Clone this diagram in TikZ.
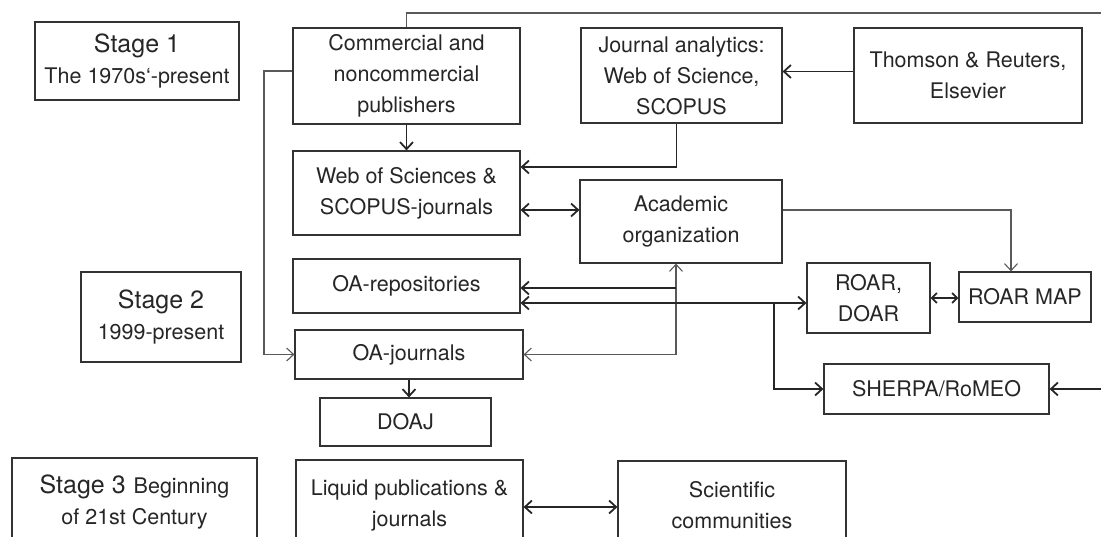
\documentclass[tikz,border=0pt]{standalone}
\usepackage{fontspec}
\setmainfont{TeX Gyre Heros}
\usetikzlibrary{arrows.meta}
\newcommand{\bodyfont}{\fontsize{21.5}{31}\selectfont}
\newcommand{\stagefont}{\fontsize{25}{31}\selectfont}
\tikzset{
  >={Straight Barb[length=7pt,width=13pt]},
  box/.style={draw=black!80, line width=1.2pt, align=center, font=\bodyfont, text=black!85, inner sep=1pt},
  link/.style={->, line width=1.8pt, draw=black!85},
  thinlink/.style={->, line width=1.1pt, draw=black!65},
  twoway/.style={<->, line width=1.8pt, draw=black!85},
}
\begin{document}
\begin{tikzpicture}[x=1pt,y=-1pt]
    \useasboundingbox (0,0) rectangle (1101,536);

    % stages
    \node[box, minimum width=204pt, minimum height=78pt] (stageone) at (137,61) {{\stagefont Stage 1}\\The 1970s‘-present};
    \node[box, minimum width=160pt, minimum height=90pt] (stagetwo) at (161,317) {{\stagefont Stage 2}\\1999-present};
    \node[box, minimum width=245pt, minimum height=88pt] (stagethree) at (134.5,502) {{\stagefont Stage 3}\hspace{8pt}Beginning\\of 21st Century};

    % first row
    \node[box, minimum width=227pt, minimum height=96pt] (comm) at (406.5,76) {Commercial and\\noncommercial\\publishers};
    \node[box, minimum width=201pt, minimum height=95pt] (jana) at (681.5,75.5) {Journal analytics:\\Web of Science,\\SCOPUS};
    \node[box, minimum width=228pt, minimum height=95pt] (thom) at (968,75.5) {Thomson \& Reuters,\\Elsevier};

    \node[box, minimum width=227pt, minimum height=84pt] (wos) at (406.5,193) {Web of Sciences \&\\SCOPUS-journals};
    \node[box, minimum width=202pt, minimum height=83pt] (acad) at (681,221.5) {Academic\\organization};

    % open access
    \node[box, minimum width=227pt, minimum height=54pt] (oarep) at (406.5,286) {OA-repositories};
    \node[box, minimum width=228pt, minimum height=49pt] (oajour) at (409,354.5) {OA-journals};
    \node[box, minimum width=171pt, minimum height=48pt] (doaj) at (405.5,422) {DOAJ};
    \node[box, minimum width=123pt, minimum height=70pt] (roar) at (868.5,298) {ROAR,\\DOAR};
    \node[box, minimum width=132pt, minimum height=50pt] (roarmap) at (1025,297) {ROAR MAP};
    \node[box, minimum width=225pt, minimum height=50pt] (sherpa) at (936.5,389) {SHERPA/RoMEO};

    % stage 3
    \node[box, minimum width=227pt, minimum height=90pt] (liquid) at (409.5,505) {Liquid publications \&\\journals};
    \node[box, minimum width=228pt, minimum height=88pt] (scient) at (732,505) {Scientific\\communities};

    \coordinate (topright) at (1112,13);
    \coordinate (leftbend) at (264,71);
    \coordinate (upjoin) at (676,288);
    \coordinate (split) at (774,303);

    \draw[link] ([yshift=4pt]thom.west) -- ([yshift=4pt]jana.east);
    \draw[link] (comm.south) -- (wos.north);
    \draw[link] ([xshift=-5pt]jana.south) |- ([yshift=26pt]wos.east);
    \draw[twoway] ([yshift=-17pt]wos.east) -- ([yshift=11.5pt]acad.west);
    \draw[thinlink] ([yshift=11.5pt]acad.east) -| ([xshift=-14pt]roarmap.north);
    \draw[thinlink, <->] (oajour.east) -| ([xshift=-5pt]acad.south);
    \draw[link] (upjoin) -- (oarep.east |- upjoin);
    \draw[twoway] (oarep.east |- split) -- (roar.west |- split);
    \draw[link] (split) |- (sherpa.west);
    \draw[twoway, >={Straight Barb[length=5pt,width=10pt]}] (roar.east) -- (roar.east -| roarmap.west);
    \draw[thinlink, -] (comm.north) |- (topright) -- (topright |- sherpa.east);
    \draw[link] (topright |- sherpa.east) -- (sherpa.east);
    \draw[thinlink] ([yshift=5pt]comm.west) -- (leftbend) |- (oajour.west);
    \draw[link] (oajour.south) -- (oajour.south |- doaj.north);
    \draw[twoway] ([yshift=-2pt]liquid.east) -- ([yshift=-2pt]liquid.east -| scient.west);
\end{tikzpicture}
\end{document}
